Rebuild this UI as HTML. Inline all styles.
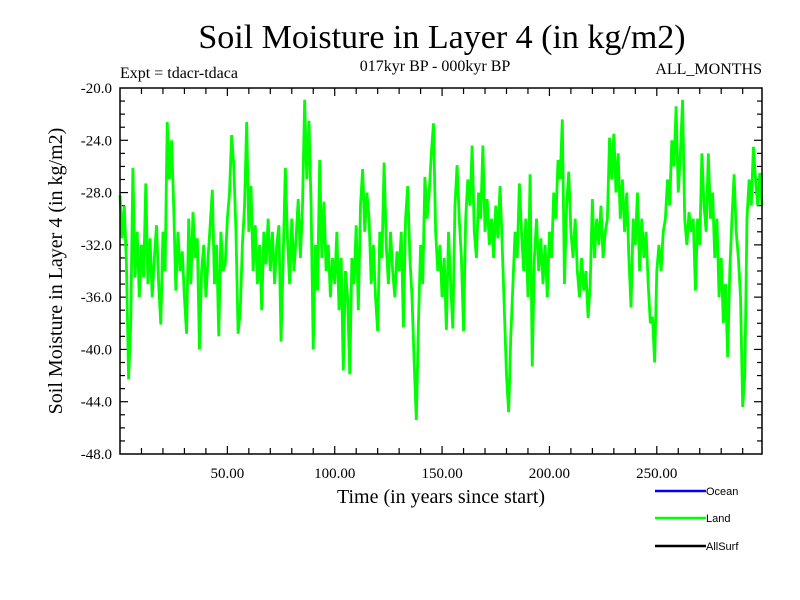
<!DOCTYPE html>
<html><head><meta charset="utf-8"><style>
html,body{margin:0;padding:0;background:#fff;}
svg{display:block;font-family:"Liberation Serif",serif;}
</style></head><body>
<svg id="chart" width="800" height="600" viewBox="0 0 800 600" xmlns="http://www.w3.org/2000/svg">
<rect width="800" height="600" fill="#fff"/>
<text x="442" y="48" font-size="34" text-anchor="middle">Soil Moisture in Layer 4 (in kg/m2)</text>
<text x="120" y="78" font-size="16">Expt = tdacr-tdaca</text>
<text x="435" y="71" font-size="16" text-anchor="middle">017kyr BP - 000kyr BP</text>
<text x="762" y="74" font-size="16" text-anchor="end">ALL_MONTHS</text>
<text x="441" y="503" font-size="20" text-anchor="middle">Time (in years since start)</text>
<text transform="translate(62,271) rotate(-90)" font-size="20" text-anchor="middle">Soil Moisture in Layer 4 (in kg/m2)</text>
<g id="ticks"></g>
<g id="series"></g>
<rect x="120" y="88" width="642" height="366" fill="none" stroke="#000" stroke-width="1.5"/>
<g font-family="Liberation Sans, sans-serif" font-size="11">
<line x1="655" y1="491" x2="706" y2="491" stroke="#0000ff" stroke-width="2.5"/>
<text x="706" y="495">Ocean</text>
<line x1="655" y1="518" x2="706" y2="518" stroke="#00ff00" stroke-width="2.5"/>
<text x="706" y="522">Land</text>
<line x1="655" y1="546" x2="706" y2="546" stroke="#000" stroke-width="2.5"/>
<text x="706" y="550">AllSurf</text>
</g>
</svg>
<script>
const landValues = [
-28.2,-31.5,-29,-33.5,-42.3,-38,-26.1,-34.5,-31,-36,
-32,-34.5,-27.3,-35,-31.5,-36,-33,-30.5,-35,-38.1,
-31,-34,-22.6,-27,-24,-29,-35.5,-31,-34,-32.5,
-36,-38.8,-30,-35,-29.5,-33,-31.5,-40,-34,-32,
-36,-33,-30.5,-27.8,-35,-32,-39,-31,-34,-33.5,
-30,-28,-23.6,-26,-31,-38.8,-37,-32,-29,-22.6,
-31,-27.5,-34,-30.5,-35,-32,-37,-31,-33.5,-30,
-34,-31,-35,-32,-30.5,-39.4,-33,-26.1,-31.5,-35,
-30,-34,-31.5,-28.5,-33,-29,-20.9,-27,-22.5,-29,
-40,-32,-35.5,-25.5,-33,-28.7,-34,-32,-36,-33,
-35,-31,-37,-33,-41.6,-34,-36,-41.9,-33,-35,
-30.5,-37,-29,-26.2,-31,-28,-30,-35,-32,-36,
-38.6,-31,-33,-25.7,-32,-35,-31,-34,-36,-32.5,
-34,-31,-38.3,-30,-27.5,-33,-36,-41,-45.4,-38,
-32,-35,-26.8,-30,-28,-25,-22.7,-31,-34,-32,
-36,-33,-38.5,-31,-35,-38.4,-29,-25.9,-30,-33,
-38.6,-30,-27,-29,-24.4,-31,-33,-28,-30,-24.4,
-31,-28.5,-32,-30,-33,-29,-31.5,-27.5,-32,-37,
-42,-44.8,-39,-35,-31,-33,-27.3,-31,-34,-30,
-36,-26.6,-41.3,-33,-30,-34,-31.5,-35,-32,-36,
-31,-33,-28,-30,-25.5,-27,-22.4,-35,-29,-26.4,
-31,-33,-30,-34,-36,-33,-35.5,-34,-37.6,-35,
-28.5,-33,-30,-32,-29,-33,-31,-30,-23.8,-27,
-23.5,-28,-25,-30,-27,-31,-28,-33,-36.8,-30,
-32,-28,-34,-30,-33,-31,-35,-38,-37.5,-41,
-34,-32,-34,-31,-30,-27,-29,-24,-26,-21.4,
-28,-25,-20.9,-30,-32,-29.5,-31,-30,-35.5,-30,
-32,-25,-29,-31,-25,-30,-28,-33,-30,-36,
-33,-38,-35,-40.6,-34,-30,-26.6,-31,-33,-36,
-44.4,-42,-30,-27,-29,-24.5,-27,-29,-26.5,-29
];
const xTickValues = [50,100,150,200,250];
const xTickLabels = ["50.00","100.00","150.00","200.00","250.00"];
const yTickValues = [-20,-24,-28,-32,-36,-40,-44,-48];
const yTickLabels = ["-20.0","-24.0","-28.0","-32.0","-36.0","-40.0","-44.0","-48.0"];

const NS="http://www.w3.org/2000/svg";
const L=120,R=762,T=88,B=454,XMIN=0,XMAX=299,YMIN=-48,YMAX=-20;
function xs(v){return L+(v-XMIN)/(XMAX-XMIN)*(R-L);}
function ys(v){return B-(v-YMIN)/(YMAX-YMIN)*(B-T);}
const svg=document.getElementById('chart');
const tg=document.getElementById('ticks');
function ln(x1,y1,x2,y2,name){
  const l=document.createElementNS(NS,'line');
  l.setAttribute('x1',x1);l.setAttribute('y1',y1);l.setAttribute('x2',x2);l.setAttribute('y2',y2);
  l.setAttribute('stroke','#000');l.setAttribute('stroke-width','1.2');
  
  
  tg.appendChild(l);
}
for(let v=10;v<XMAX;v+=10){
  const x=xs(v);const len=(v%50===0)?8:6;
  ln(x,B,x,B-len,'x-tick');ln(x,T,x,T+len,'x-tick-top');
}
for(let v=YMIN+1;v<YMAX;v+=1){
  const y=ys(v);const len=(v%4===0)?8:5;
  ln(L,y,L+len,y,'y-tick');ln(R,y,R-len,y,'y-tick-right');
}
xTickValues.forEach((v,i)=>{
  const t=document.createElementNS(NS,'text');
  t.setAttribute('x',xs(v));t.setAttribute('y',478);t.setAttribute('font-size','15');t.setAttribute('text-anchor','middle');
  t.textContent=xTickLabels[i];
  
  
  svg.appendChild(t);
});
yTickValues.forEach((v,i)=>{
  const t=document.createElementNS(NS,'text');
  t.setAttribute('x',112);t.setAttribute('y',ys(v)+5);t.setAttribute('font-size','15');t.setAttribute('text-anchor','end');
  t.textContent=yTickLabels[i];
  
  
  svg.appendChild(t);
});
const step=(XMAX-XMIN)/(landValues.length-1);
const pts=landValues.map((v,i)=>xs(XMIN+i*step).toFixed(2)+','+ys(v).toFixed(2)).join(' ');
const pl=document.createElementNS(NS,'polyline');
pl.setAttribute('points',pts);pl.setAttribute('fill','none');pl.setAttribute('stroke','#00ff00');
pl.setAttribute('stroke-width','2.8');pl.setAttribute('stroke-linejoin','miter');


document.getElementById('series').appendChild(pl);
</script>
</body></html>
